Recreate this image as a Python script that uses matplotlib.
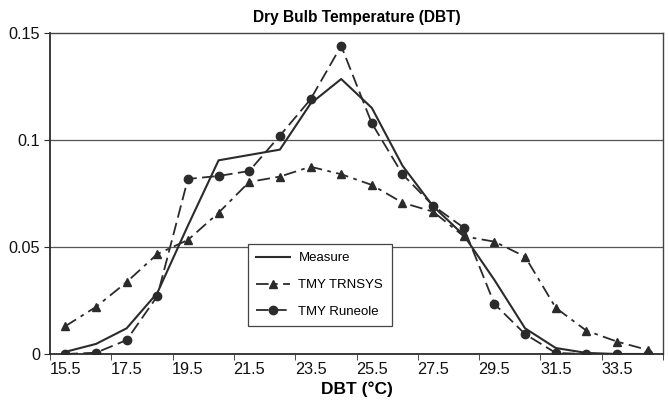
import numpy as np
import matplotlib
matplotlib.use("Agg")
import matplotlib.pyplot as plt

plt.rcParams['font.family'] = ['Liberation Sans', 'DejaVu Sans']

# DBT bins (°C)
bins = [15.5, 16.5, 17.5, 18.5, 19.5, 20.5, 21.5, 22.5, 23.5, 24.5,
        25.5, 26.5, 27.5, 28.5, 29.5, 30.5, 31.5, 32.5, 33.5, 34.5]

measure = [0.001, 0.0047, 0.012, 0.0285, 0.06, 0.0905, 0.093, 0.0955, 0.117, 0.1285,
           0.115, 0.088, 0.069, 0.0555, 0.0346, 0.012, 0.0028, 0.0005, 0.0, 0.0]
tmy_trnsys = [0.013, 0.022, 0.0336, 0.0467, 0.0533, 0.066, 0.0804, 0.0829, 0.0875, 0.084,
              0.079, 0.0707, 0.0665, 0.055, 0.0525, 0.0455, 0.0216, 0.0109, 0.0058, 0.0019]
tmy_runeole = [0.0, 0.0006, 0.0065, 0.027, 0.0818, 0.0832, 0.0855, 0.102, 0.119, 0.144,
               0.1078, 0.084, 0.0693, 0.059, 0.0234, 0.0093, 0.0005, 0.0, 0.0, 0.0]

c = '#2b2b2b'
x = np.arange(len(bins))

fig = plt.figure(figsize=(6.68, 4.03), dpi=100)
ax = fig.add_axes([50 / 668, 49 / 403, 613 / 668, 321 / 403])

for yv in [0.05, 0.1]:
    ax.axhline(yv, color='#555555', lw=0.9, zorder=1)

ax.plot(x, measure, color=c, lw=1.5, label='Measure', zorder=3)
ax.plot(x, tmy_trnsys, color=c, lw=1.3, dashes=[7, 3, 2, 3], marker='^', ms=6,
        label='TMY TRNSYS', zorder=3)
ax.plot(x, tmy_runeole, color=c, lw=1.3, dashes=[7, 3], marker='o', ms=6,
        label='TMY Runeole', zorder=3)

ax.set_xlim(-0.5, len(bins) - 0.5)
ax.set_ylim(0, 0.15)
ax.set_yticks([0, 0.05, 0.1, 0.15])
ax.set_yticklabels(['0', '0.05', '0.1', '0.15'])

# labels on every other bin, tick marks on bin edges
ax.set_xticks(x[::2])
ax.set_xticklabels([f'{b:g}' for b in bins[::2]])
ax.tick_params(axis='x', which='major', length=0, pad=6)
ax.set_xticks(np.arange(-0.5, len(bins), 2), minor=True)
ax.tick_params(axis='x', which='minor', length=4, direction='out', color=c)
ax.tick_params(axis='y', length=4, direction='out', color=c, pad=3)
ax.tick_params(labelsize=11.7, labelcolor='#111111')

for s in ax.spines.values():
    s.set_color('#444444')
    s.set_linewidth(1.0)
ax.spines['left'].set_color(c)
ax.spines['bottom'].set_color(c)
ax.spines['left'].set_linewidth(1.3)
ax.spines['bottom'].set_linewidth(1.3)

ax.set_title('Dry Bulb Temperature (DBT)', fontsize=11.2, fontweight='bold', pad=8)
ax.set_xlabel('DBT (°C)', fontsize=12.5, fontweight='bold', labelpad=3)

leg = ax.legend(loc='upper left', bbox_to_anchor=(191 / 613, 1 - (237 - 33) / 321),
                fontsize=9.5, frameon=True, fancybox=False, framealpha=1,
                edgecolor='#444444', handlelength=2.6, borderpad=0.65,
                labelspacing=1.1, handletextpad=0.6)
leg.get_frame().set_linewidth(0.9)

fig.savefig('out.png', dpi=100)
